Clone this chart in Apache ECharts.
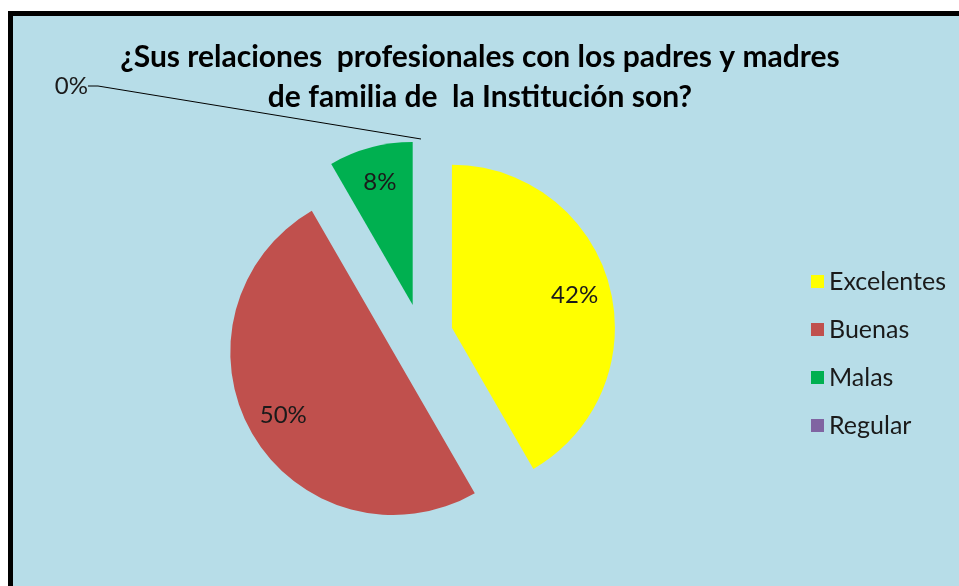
<!DOCTYPE html>
<html>
<head>
<meta charset="utf-8">
<script src="https://cdn.jsdelivr.net/npm/echarts@6/dist/echarts.min.js"></script>
<style>
html,body{margin:0;padding:0;background:#fff;}
#myChart{width:959px;height:586px;}
</style>
</head>
<body>
<div id="myChart"></div>
<script>
/*datos*/
var categorias = ['Excelentes', 'Buenas', 'Malas', 'Regular'];
var valores = [5, 6, 1, 0];
var colores = ['#FFFF00', '#C0504D', '#00B050', '#8064A2'];
var titulo = '¿Sus relaciones  profesionales con los padres y madres\nde familia de  la Institución son?';

var myChart = echarts.init(document.getElementById('myChart'));

var fuente = 'Lato';
var centro = [421, 336];
var texto = {fontFamily: fuente, fontSize: 24, color: '#1a1a1a'};

/*sectores, etiquetas internas y etiqueta del 0%*/
var datos = [], internas = [], ceros = [];
for (var i = 0; i < categorias.length; ++i) {
    datos.push({name: categorias[i], value: valores[i], selected: true, itemStyle: {color: colores[i]}});
    internas.push({name: categorias[i], value: valores[i], selected: true, label: {show: valores[i] != 0}});
    ceros.push({name: categorias[i], value: valores[i], selected: false,
        label: {show: valores[i] == 0}, labelLine: {show: valores[i] == 0}});
}

var comun = {
    type: 'pie',
    center: centro,
    startAngle: 90,
    clockwise: true,
    selectedMode: 'multiple',
    selectedOffset: 32,
    percentPrecision: 0,
    avoidLabelOverlap: false,
    silent: true,
    emphasis: {disabled: true}
};

myChart.setOption({
    backgroundColor: '#ffffff',
    animation: false,
    graphic: [{
        type: 'rect',
        z: -10,
        shape: {x: 10.5, y: 13.5, width: 1000, height: 620},
        style: {fill: '#B7DDE8', stroke: '#000', lineWidth: 5}
    }],
    title: {
        text: titulo,
        left: 475,
        top: 32,
        textAlign: 'center',
        textStyle: {
            fontFamily: fuente,
            fontWeight: 'bold',
            fontSize: 30,
            lineHeight: 40,
            color: '#000'
        }
    },
    color: colores,
    legend: {
        data: categorias,
        orient: 'vertical',
        left: 806,
        top: 264,
        icon: 'rect',
        itemWidth: 13,
        itemHeight: 13,
        itemGap: 23,
        selectedMode: false,
        textStyle: {fontFamily: fuente, fontSize: 25, color: '#1a1a1a'}
    },
    series: [
        echarts.util.extend({
            name: 'sectores',
            radius: [0, 163],
            label: {show: false},
            labelLine: {show: false},
            data: datos
        }, comun),
        echarts.util.extend({
            // invisible, solo ubica los porcentajes dentro de cada sector
            name: 'internas',
            radius: [0, 248],
            itemStyle: {color: 'rgba(0,0,0,0)'},
            label: echarts.util.extend({position: 'inside', formatter: '{d}%'}, texto),
            labelLine: {show: false},
            data: internas
        }, comun),
        echarts.util.extend({
            // invisible, etiqueta del 0% con su linea guia
            name: 'ceros',
            radius: [0, 197],
            itemStyle: {color: 'rgba(0,0,0,0)'},
            label: echarts.util.extend({position: 'outside', formatter: '{d}%'}, texto),
            labelLine: {length: 10, length2: 10, lineStyle: {color: '#000', width: 1}},
            labelLayout: function(p){
                return {x: 88, y: 86, align: 'right', verticalAlign: 'middle'};
            },
            data: ceros
        }, comun)
    ]
});
</script>
</body>
</html>
